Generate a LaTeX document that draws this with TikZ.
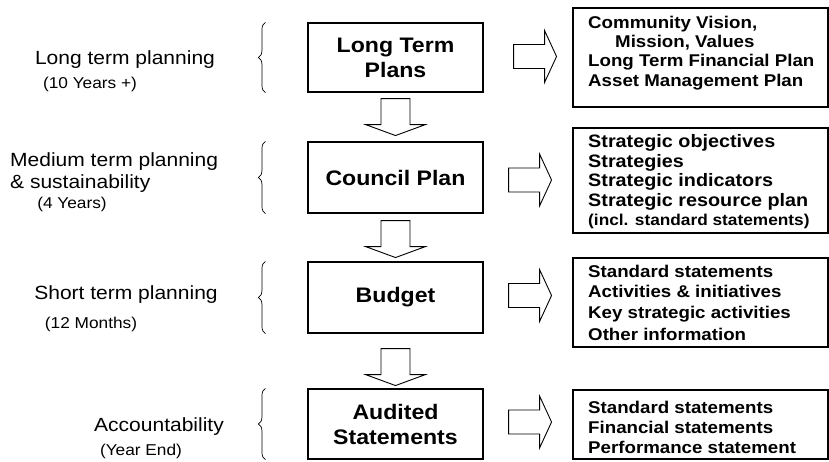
\documentclass[tikz,border=0pt]{standalone}
\usepackage{fontspec}
\setmainfont[FakeStretch=1.1]{Liberation Sans}
\usetikzlibrary{decorations.pathreplacing,calc}
\begin{document}
\begin{tikzpicture}[x=1pt,y=-1pt,
  every node/.style={inner sep=0pt},
  lbl/.style={font=\fontsize{19.1}{22}\selectfont, anchor=base},
  lblw/.style={font=\fontsize{19.1}{22}\selectfont, anchor=base west},
  sublbl/.style={font=\fontsize{15.7}{18}\selectfont, anchor=base},
  cbox/.style={draw, line width=1.1pt, minimum width=175pt, align=center, font=\bfseries\fontsize{21}{25}\selectfont},
  rbox/.style={draw, line width=1.1pt, minimum width=255pt},
  item/.style={anchor=base west, font=\bfseries\fontsize{17}{19}\selectfont},
  itemb/.style={anchor=base west, font=\bfseries\fontsize{18}{19}\selectfont},
  smallitem/.style={anchor=base west, font=\bfseries\fontsize{15.7}{18}\selectfont},
  brc/.style={decorate, decoration={brace, amplitude=7pt}, line width=0.7pt},
  barrow/.style={draw, line width=0.9pt, fill=white},
  rarrow/.pic={\path[barrow] (0,-12) -- (31,-12) -- (31,-26) -- (43,0) -- (31,26) -- (31,12) -- (0,12) -- cycle;},
  darrow/.pic={\path[barrow] (-14.5,0) -- (14.5,0) -- (14.5,26) -- (30,26) -- (0,37) -- (-30,26) -- (-14.5,26) -- cycle;},
]
\useasboundingbox (0,0) rectangle (829,461);

% central boxes
\node[cbox, minimum height=69pt] (ltp) at (395.5,57.5) {Long Term\\Plans};
\node[cbox, minimum height=71pt] (cp) at (395.5,177.5) {Council Plan};
\node[cbox, minimum height=71pt] (bud) at (395.5,297.5) {Budget};
\node[cbox, minimum height=70pt] (aud) at (395.5,424) {Audited\\Statements};

% braces
\draw[brc] ($(ltp.south west)+(-42,0)$) -- ($(ltp.north west)+(-42,0)$);
\draw[brc] ($(cp.south west)+(-42,0)$) -- ($(cp.north west)+(-42,0)$);
\draw[brc] ($(bud.south west)+(-42,0)$) -- ($(bud.north west)+(-42,0)$);
\draw[brc] ($(aud.south west)+(-42,0)$) -- ($(aud.north west)+(-42,0)$);

% down block arrows
\pic at ($(ltp.south)+(0,6)$) {darrow};
\pic at ($(cp.south)+(0,7)$) {darrow};
\pic at ($(bud.south)+(0,15)$) {darrow};

% right block arrows
\pic at ($(ltp.east)+(30,-1)$) {rarrow};
\pic at ($(cp.east)+(25,2.5)$) {rarrow};
\pic at ($(bud.east)+(25,-2)$) {rarrow};
\pic at ($(aud.east)+(25,-2)$) {rarrow};

% right boxes
\node[rbox, minimum height=99pt] (r1) at (700.5,57.5) {};
\node[rbox, minimum height=105pt] (r2) at (700.5,180.5) {};
\node[rbox, minimum height=89pt] (r3) at (700.5,302.5) {};
\node[rbox, minimum height=69pt] (r4) at (700.5,424.5) {};

% left labels
\node[lbl] (l1) at (125,64) {Long term planning};
\node[sublbl] (l1s) at (90,88.5) {(10 Years +)};
\node[lblw] (l2) at (10,166.5) {Medium term planning};
\node[lblw] (l2b) at (10,188.5) {\& sustainability};
\node[sublbl] (l2s) at (72,208) {(4 Years)};
\node[lbl] (l3) at (126,299.5) {Short term planning};
\node[sublbl] (l3s) at (91,328.5) {(12 Months)};
\node[lbl] (l4) at (159,431.5) {Accountability};
\node[sublbl] (l4s) at (141,455.5) {(Year End)};

% right list texts
\node[item] (a1) at (588,28) {Community Vision,};
\node[item] (a2) at (615,47) {Mission, Values};
\node[item] (a3) at (588,66) {Long Term Financial Plan};
\node[item] (a4) at (588,86) {Asset Management Plan};

\node[itemb] (b1) at (588,147) {Strategic objectives};
\node[itemb] (b2) at (588,167) {Strategies};
\node[itemb] (b3) at (588,186.5) {Strategic indicators};
\node[itemb] (b4) at (588,206) {Strategic resource plan};
\node[smallitem] (b5) at (588,225) {(incl. standard statements)};

\node[item] (c1) at (588,277) {Standard statements};
\node[item] (c2) at (588,297) {Activities \& initiatives};
\node[item] (c3) at (588,318) {Key strategic activities};
\node[item] (c4) at (588,340) {Other information};

\node[item] (d1) at (588,413) {Standard statements};
\node[item] (d2) at (588,433) {Financial statements};
\node[item] (d3) at (588,453) {Performance statement};
\end{tikzpicture}
\end{document}
